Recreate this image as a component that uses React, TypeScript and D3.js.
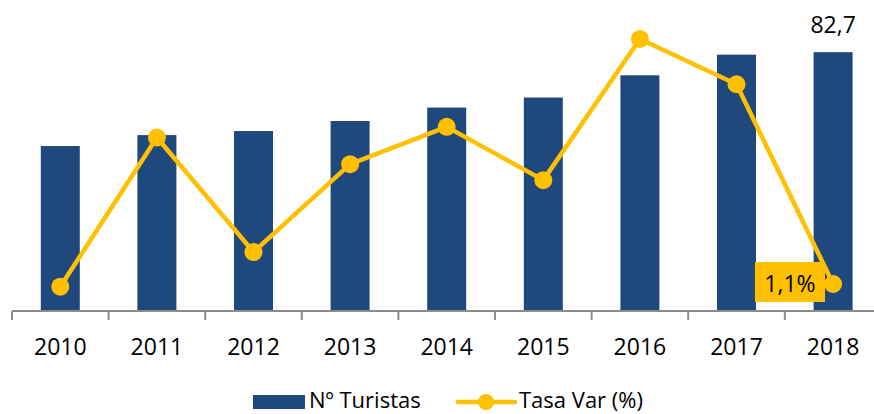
import React from "react";
import * as d3 from "d3";

const years = ["2010", "2011", "2012", "2013", "2014", "2015", "2016", "2017", "2018"];
const turistas = [52.7, 56.2, 57.5, 60.7, 65.0, 68.2, 75.3, 81.9, 82.7];
const tasaVar = [1.0, 6.6, 2.3, 5.6, 7.0, 5.0, 10.3, 8.6, 1.1];

const W = 874;
const H = 414;
const BLUE = "#1F497D";
const YELLOW = "#FFC000";
const FONT = "'Open Sans', sans-serif";

export default function App() {
  const xb = d3.scaleBand<string>().domain(years).range([12, 12 + 96.6 * 9]);
  const y = d3.scaleLinear().domain([0, 100]).range([311, -2]);
  const y2 = d3.scaleLinear().domain([0, 12]).range([313.3, -6.3]);
  const baseY = 311;
  const cx = (d: string) => (xb(d) as number) + xb.bandwidth() / 2;
  const line = d3
    .line<number>()
    .x((_, i) => cx(years[i]))
    .y((v) => y2(v));
  const barW = 39;
  const lastI = years.length - 1;
  return (
    <div style={{ position: "fixed", left: 0, top: 0, width: W, height: H, background: "#fff" }}>
      <svg width={W} height={H} style={{ display: "block" }} fontFamily={FONT}>
        {years.map((d, i) => (
          <rect
            key={d}
            x={cx(d) - barW / 2}
            y={y(turistas[i])}
            width={barW}
            height={baseY - y(turistas[i])}
            fill={BLUE}
          />
        ))}
        <line x1={12} x2={W} y1={baseY} y2={baseY} stroke="#8c8c8c" strokeWidth={2} />
        {years.map((d) => (
          <line key={"t" + d} x1={xb(d)} x2={xb(d)} y1={baseY} y2={baseY + 9} stroke="#8c8c8c" strokeWidth={2} />
        ))}
        {years.map((d) => (
          <text key={"l" + d} x={cx(d)} y={355} textAnchor="middle" fontSize={23} fill="#000">
            {d}
          </text>
        ))}
        <text x={cx(years[lastI])} y={33} textAnchor="middle" fontSize={23} fill="#000">
          {turistas[lastI].toFixed(1).replace(".", ",")}
        </text>
        <rect x={755} y={262} width={70} height={40} fill={YELLOW} />
        <text x={790} y={292} textAnchor="middle" fontSize={23} fill="#000">
          {tasaVar[lastI].toFixed(1).replace(".", ",") + "%"}
        </text>
        <path d={line(tasaVar) as string} fill="none" stroke={YELLOW} strokeWidth={4.5} strokeLinejoin="round" />
        {tasaVar.map((v, i) => (
          <circle key={"c" + i} cx={cx(years[i])} cy={y2(v)} r={9} fill={YELLOW} />
        ))}
        {/* legend */}
        <rect x={253} y={395} width={52} height={14} fill={BLUE} />
        <text x={309} y={408} fontSize={22} fill="#000">
          Nº Turistas
        </text>
        <line x1={458} x2={515} y1={402} y2={402} stroke={YELLOW} strokeWidth={4.5} strokeLinecap="round" />
        <circle cx={486} cy={402} r={8} fill={YELLOW} />
        <text x={519} y={408} fontSize={22} fill="#000">
          Tasa Var (%)
        </text>
      </svg>
    </div>
  );
}
